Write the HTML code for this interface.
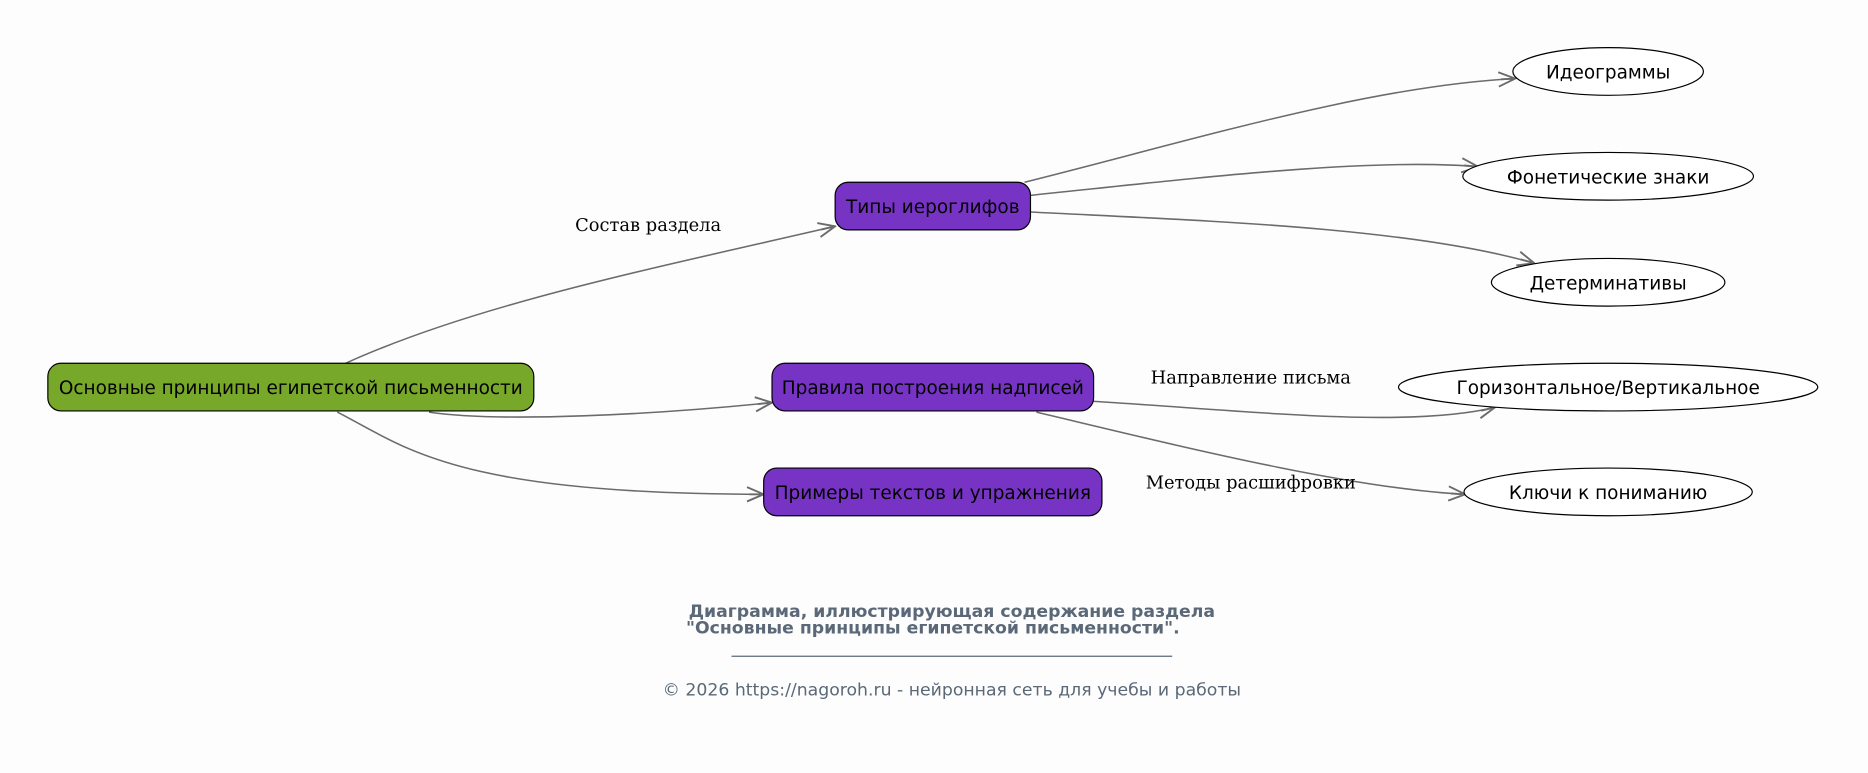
<!DOCTYPE html>
<html><head><meta charset="utf-8"><style>html,body{margin:0;padding:0;background:#fdfdfd}svg{display:block}</style></head>
<body>
<svg width="1868" height="773" viewBox="0 0 1568 649" xmlns="http://www.w3.org/2000/svg">
<defs><marker id="a" markerWidth="16" markerHeight="14" refX="15" refY="7" orient="auto" markerUnits="userSpaceOnUse"><path d="M1,1 L15,7 L1,13 M15,7 L3,7" fill="none" stroke="#6b6b6b" stroke-width="1.6"/></marker></defs>
<rect width="1568" height="649" fill="#fdfdfd"/>
<g fill="none" stroke="#6b6b6b" stroke-width="1.3" marker-end="url(#a)">
<path d="M290,305 C400,255 550,225 701,190"/>
<path d="M360,346 C420,355 550,348 648,338"/>
<path d="M283,346 C340,375 380,415 641,415"/>
<path d="M860,153 C1000,118 1150,72 1272,66"/>
<path d="M865,164 C1000,150 1150,132 1241,140"/>
<path d="M865,178 C1000,185 1180,190 1288,221"/>
<path d="M918,337 C1050,345 1180,360 1255,342"/>
<path d="M870,346 C980,372 1130,410 1230,415"/>
</g>
<g font-family="DejaVu Serif, Liberation Serif, serif" font-size="15" fill="#000" text-anchor="middle">
<text x="544" y="194">Состав раздела</text>
<text x="1050" y="322">Направление письма</text>
<text x="1050" y="410">Методы расшифровки</text>
</g>
<g stroke="#000" stroke-width="1">
<rect x="40" y="305" width="408" height="40" rx="11" fill="#77a82a"/>
<rect x="701" y="153" width="164" height="40" rx="11" fill="#7733c4"/>
<rect x="648" y="305" width="270" height="40" rx="11" fill="#7733c4"/>
<rect x="641" y="393" width="284" height="40" rx="11" fill="#7733c4"/>
<ellipse cx="1350" cy="60" rx="80" ry="20" fill="#fff"/>
<ellipse cx="1350" cy="148" rx="122" ry="20" fill="#fff"/>
<ellipse cx="1350" cy="237" rx="98" ry="20" fill="#fff"/>
<ellipse cx="1350" cy="325" rx="176" ry="20" fill="#fff"/>
<ellipse cx="1350" cy="413" rx="121" ry="20" fill="#fff"/>
</g>
<g font-family="DejaVu Sans, Liberation Sans, sans-serif" font-size="15.5" fill="#000" text-anchor="middle">
<text x="244" y="331">Основные принципы египетской письменности</text>
<text x="783" y="179">Типы иероглифов</text>
<text x="783" y="331">Правила построения надписей</text>
<text x="783" y="419">Примеры текстов и упражнения</text>
<text x="1350" y="66">Идеограммы</text>
<text x="1350" y="154">Фонетические знаки</text>
<text x="1350" y="243">Детерминативы</text>
<text x="1350" y="331">Горизонтальное/Вертикальное</text>
<text x="1350" y="419">Ключи к пониманию</text>
</g>
<g font-family="DejaVu Sans, Liberation Sans, sans-serif" font-size="14.5" fill="#5a6878" text-anchor="middle">
<text x="799" y="518" font-weight="bold">Диаграмма, иллюстрирующая содержание раздела</text>
<text x="783" y="532" font-weight="bold">"Основные принципы египетской письменности".</text>
<line x1="614" y1="551" x2="984" y2="551" stroke="#5a6878" stroke-width="1"/>
<text x="799" y="584">© 2026 https://nagoroh.ru - нейронная сеть для учебы и работы</text>
</g>
</svg>
</body></html>
